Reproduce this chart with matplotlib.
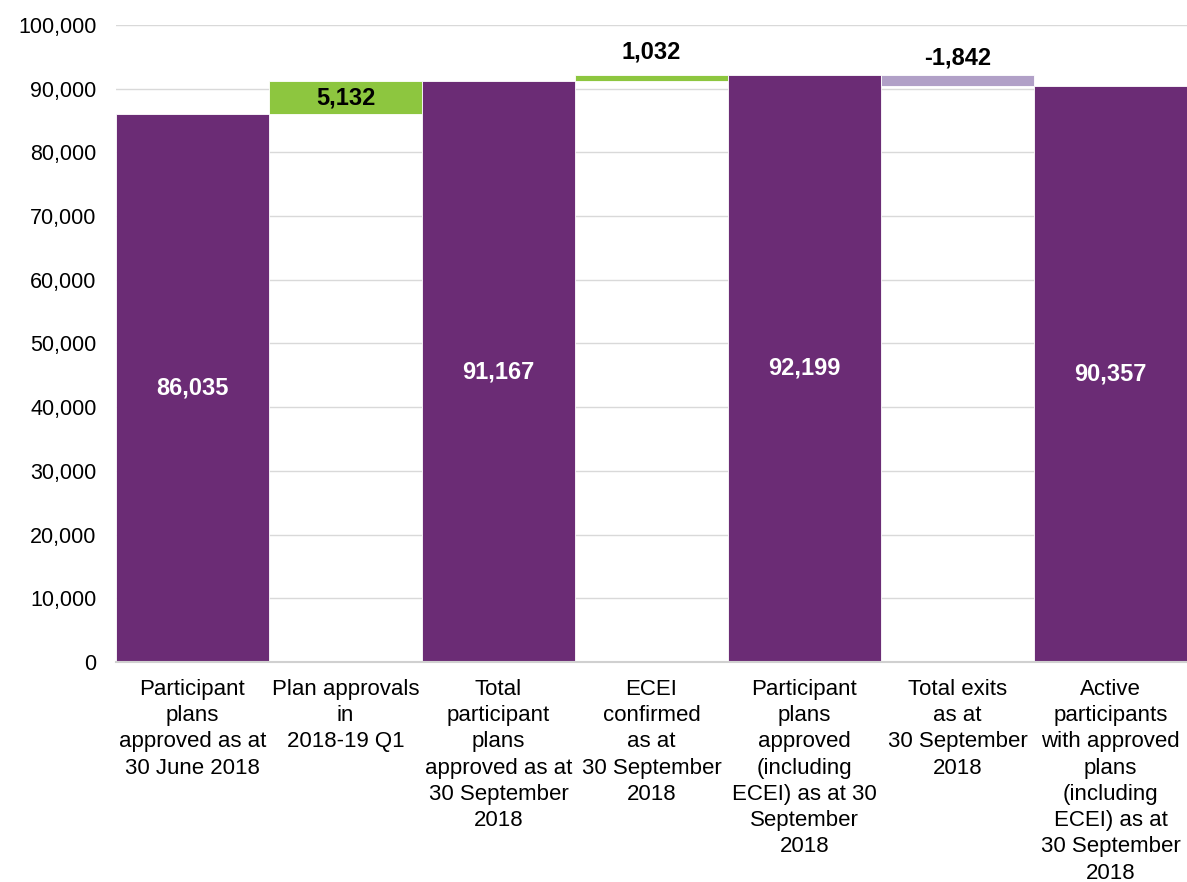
import numpy as np
import matplotlib.pyplot as plt
from matplotlib.ticker import FuncFormatter

plt.rcParams['font.family'] = ['Liberation Sans', 'DejaVu Sans']

categories = [
    "Participant\nplans\napproved as at\n30 June 2018",
    "Plan approvals\nin\n2018-19 Q1",
    "Total\nparticipant\nplans\napproved as at\n30 September\n2018",
    "ECEI\nconfirmed\nas at\n30 September\n2018",
    "Participant\nplans\napproved\n(including\nECEI) as at 30\nSeptember\n2018",
    "Total exits\nas at\n30 September\n2018",
    "Active\nparticipants\nwith approved\nplans\n(including\nECEI) as at\n30 September\n2018",
]
values = [86035, 5132, 91167, 1032, 92199, -1842, 90357]
is_total = [True, False, True, False, True, False, True]

purple = "#6B2C75"
green = "#8DC63F"
light_purple = "#B1A0C7"

# offset (points) above the bar for small step labels, None = centred in bar
label_above = [None, None, None, 8, None, 4, None]

# bottoms and heights for the floating bars
bottoms = []
heights = []
colors = []
running = 0
for v, tot in zip(values, is_total):
    if tot:
        bottoms.append(0)
        heights.append(v)
        colors.append(purple)
        running = v
    else:
        if v >= 0:
            bottoms.append(running)
            heights.append(v)
            colors.append(green)
        else:
            bottoms.append(running + v)
            heights.append(-v)
            colors.append(light_purple)
        running += v

fig = plt.figure(figsize=(11.87, 8.82), dpi=100)
ax = fig.add_axes([0.0977, 0.2494, 0.9023, 0.7223])

x = np.arange(len(values))
ax.bar(x, heights, bottom=bottoms, width=1.0, color=colors,
       edgecolor="white", linewidth=0.6, zorder=3)

for i, (b, h, v, tot) in enumerate(zip(bottoms, heights, values, is_total)):
    txt = f"{v:,}"
    if label_above[i] is None:
        ax.text(i, b + h / 2, txt, ha="center", va="center", fontsize=17,
                fontweight="bold", color="white" if tot else "black", zorder=4)
    else:
        ax.annotate(txt, (i, b + h), xytext=(0, label_above[i]),
                    textcoords="offset points", ha="center", va="bottom",
                    fontsize=17, fontweight="bold", color="black", zorder=4)

ax.set_xlim(-0.5, len(values) - 0.5)
ax.set_ylim(0, 100000)
ax.set_yticks(np.arange(0, 100001, 10000))
ax.yaxis.set_major_formatter(FuncFormatter(lambda v, p: f"{int(v):,}"))
ax.set_xticks(x)
ax.set_xticklabels(categories, fontsize=16, linespacing=1.33)
ax.tick_params(axis="x", length=0, pad=12)
ax.tick_params(axis="y", length=0, pad=14, labelsize=15.5)

ax.grid(axis="y", color="#D9D9D9", linewidth=1, zorder=0)
ax.set_axisbelow(True)
for side in ["left", "right", "top"]:
    ax.spines[side].set_visible(False)
ax.spines["bottom"].set_color("#D0D0D0")
ax.spines["bottom"].set_linewidth(1.5)
ax.spines["bottom"].set_zorder(5)

fig.savefig("out.png", dpi=100)
